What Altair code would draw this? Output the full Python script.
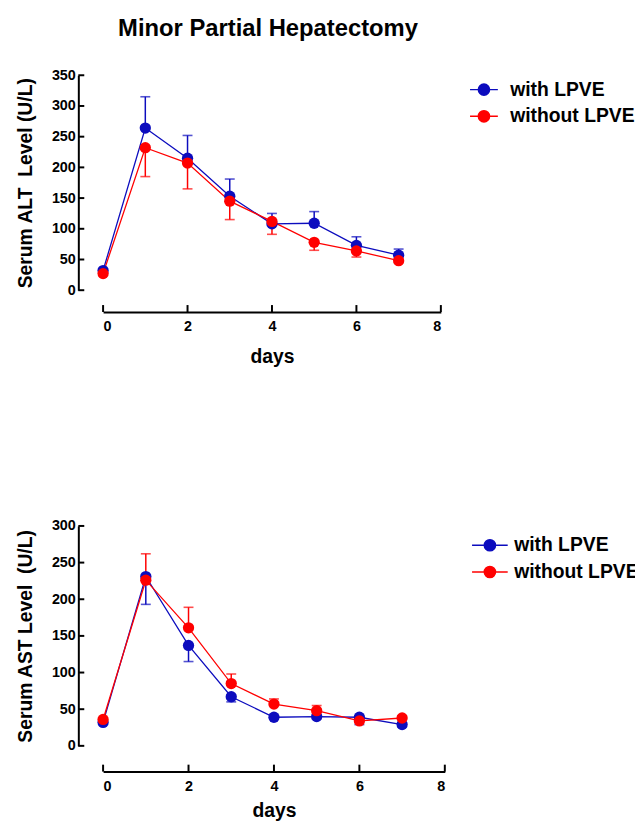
import altair as alt
import pandas as pd

F = "Liberation Sans"

days = [0, 1, 2, 3, 4, 5, 6, 7]
groups = ["with LPVE", "without LPVE"]
colors = ["#0C0CBE", "#FF0000"]
x_ticks = [0, 2, 4, 6, 8]

# ALT panel (with LPVE error bars up, without LPVE error bars down)
alt_with = [32, 264, 215, 153, 108, 109, 73, 57]
alt_with_err = [3, 51, 37, 28, 17, 19, 14, 10]
alt_without = [27, 232, 207, 145, 112, 78, 64, 48]
alt_without_err = [3, 47, 42, 30, 21, 13, 10, 3]
alt_ticks = [0, 50, 100, 150, 200, 250, 300, 350]

# AST panel (with LPVE error bars down, without LPVE error bars up)
ast_with = [32, 231, 137, 67, 39, 40, 39, 29]
ast_with_err = [2, 38, 22, 7, 3, 3, 10, 3]
ast_without = [36, 226, 161, 85, 57, 48, 34, 38]
ast_without_err = [2, 36, 28, 13, 7, 7, 3, 3]
ast_ticks = [0, 50, 100, 150, 200, 250, 300]


def make_df(wv, we, wd, ov, oe, od):
    rows = []
    for g, vals, errs, d in [(groups[0], wv, we, wd), (groups[1], ov, oe, od)]:
        for day, v, e in zip(days, vals, errs):
            rows.append({"day": day, "group": g, "value": v, "end": v + d * e})
    return pd.DataFrame(rows)


def sym_path(half_line, radius):
    return (f"M{-half_line},0L{half_line},0"
            f"M{radius},0A{radius},{radius},0,1,1,{-radius},0"
            f"A{radius},{radius},0,1,1,{radius},0Z")


def panel(df, yticks, ytitle, w, h, xoff, xtpad, lx, ly, half_line, loff,
          rowpad, title=None):
    ymax = yticks[-1]
    xs = alt.Scale(domain=[0, 8], nice=False, zero=False)
    ys = alt.Scale(domain=[0, ymax], nice=False)
    xax = alt.Axis(values=x_ticks, offset=xoff, tickSize=0, labelPadding=8,
                   title="days", titlePadding=xtpad, format="d")
    yax = alt.Axis(values=yticks, offset=25, tickSize=0, labelPadding=3,
                   title=ytitle, titlePadding=16)
    color = alt.Color(
        "group:N",
        scale=alt.Scale(domain=groups, range=colors),
        legend=alt.Legend(
            title=None, orient="none", legendX=lx, legendY=ly,
            symbolType=sym_path(half_line, 0.42), symbolSize=27 * 27,
            symbolStrokeWidth=1.5, symbolOpacity=1,
            labelFont=F, labelFontSize=19.5, labelFontWeight="bold",
            labelColor="black", labelOffset=loff, rowPadding=rowpad,
            labelLimit=400,
        ),
    )
    base = alt.Chart(df)
    x = alt.X("day:Q", scale=xs, axis=xax)
    y = alt.Y("value:Q", scale=ys, axis=yax)
    lines = base.mark_line(strokeWidth=1.3).encode(x=x, y=y, color=color)
    err = base.mark_rule(strokeWidth=1.5).encode(
        x=x, y=y, y2="end:Q", color=alt.Color("group:N", legend=None))
    caps = base.mark_tick(orient="horizontal", size=10, thickness=1.6).encode(
        x=x, y=alt.Y("end:Q", scale=ys, axis=yax),
        color=alt.Color("group:N", legend=None))
    pts = base.mark_point(filled=True, size=130, opacity=1).encode(
        x=x, y=y, color=color)
    yt = alt.Chart(pd.DataFrame({"t": yticks})).mark_rule(
        color="black", strokeWidth=2).encode(
        y=alt.Y("t:Q", scale=ys, axis=yax),
        x=alt.value(-25), x2=alt.value(-19))
    xt = alt.Chart(pd.DataFrame({"t": x_ticks})).mark_rule(
        color="black", strokeWidth=2).encode(
        x=alt.X("t:Q", scale=xs, axis=xax),
        y=alt.value(h + xoff), y2=alt.value(h + xoff - 7))
    ch = alt.layer(lines, err, caps, pts, yt, xt).properties(width=w, height=h)
    if title is not None:
        ch = ch.properties(title=title)
    return ch


top = panel(make_df(alt_with, alt_with_err, 1, alt_without, alt_without_err, -1),
            alt_ticks, "Serum ALT\u00a0\u00a0Level (U/L)", 341, 217, 22, 14,
            370, 0, 1.04, 12, 3,
            title=alt.Title("Minor Partial Hepatectomy", fontSize=24, font=F,
                            fontWeight="bold", color="black", anchor="middle",
                            frame="group", offset=27, dx=-4))
bottom = panel(make_df(ast_with, ast_with_err, -1, ast_without, ast_without_err, 1),
               ast_ticks, "Serum AST Level\u00a0\u00a0(U/L)", 345, 222, 26, 9,
               376, 5, 1.333, 10, 3)

chart = alt.vconcat(top, bottom, spacing=154).resolve_legend(
    color="independent").resolve_scale(color="shared").properties(
    padding={"left": 7, "top": 5, "right": -4, "bottom": 0},
    background="white",
).configure_view(strokeWidth=0, stroke="transparent").configure_axis(
    grid=False, domainColor="black", domainWidth=2,
    labelFont=F, labelFontSize=14.5, labelFontWeight="bold", labelColor="black",
    titleFont=F, titleFontSize=19.5, titleFontWeight="bold", titleColor="black",
)

chart.save("out.html", embed_options={"renderer": "svg", "actions": False})
